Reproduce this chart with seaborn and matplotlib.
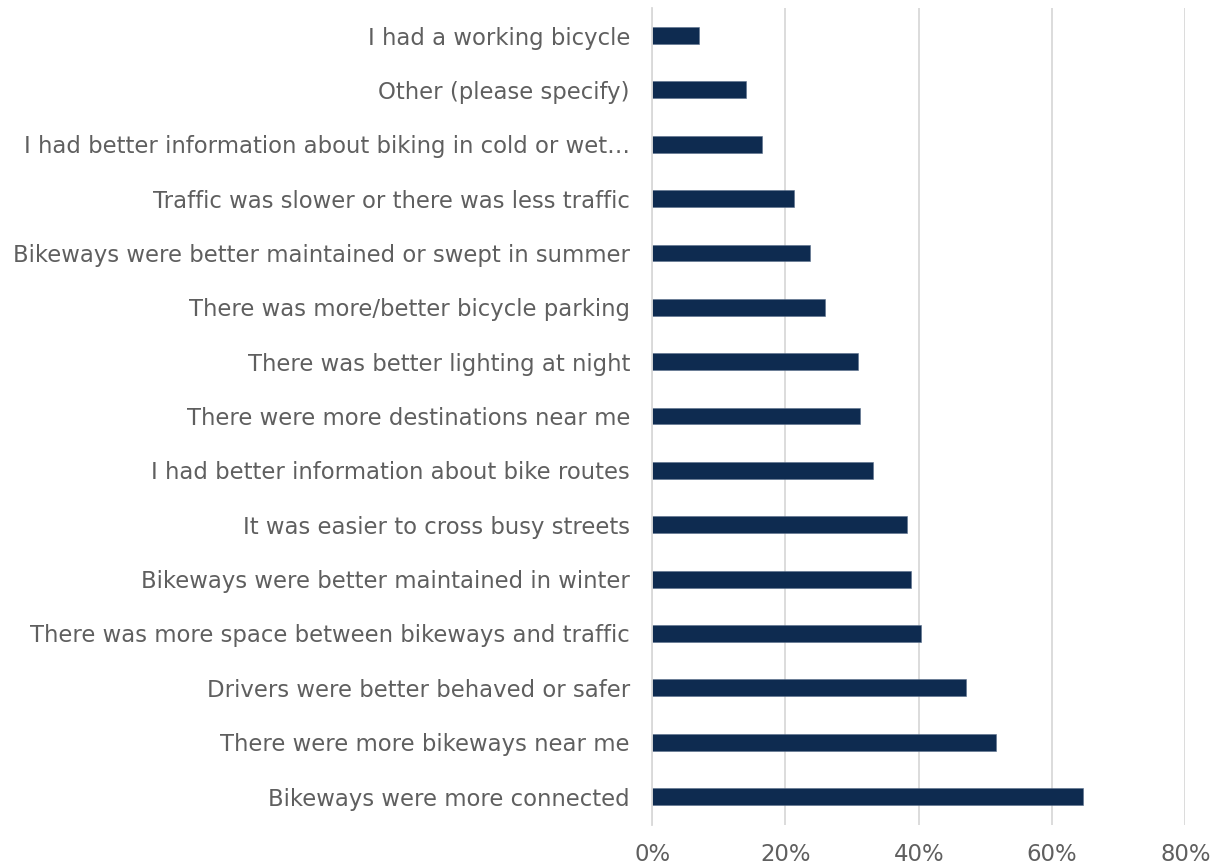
import matplotlib
matplotlib.use("Agg")
import matplotlib.pyplot as plt
from matplotlib.ticker import FuncFormatter
import seaborn as sns
import pandas as pd

# Survey responses: "I would bike more if..."
categories = [
    "I had a working bicycle",
    "Other (please specify)",
    "I had better information about biking in cold or wet\u2026",
    "Traffic was slower or there was less traffic",
    "Bikeways were better maintained or swept in summer",
    "There was more/better bicycle parking",
    "There was better lighting at night",
    "There were more destinations near me",
    "I had better information about bike routes",
    "It was easier to cross busy streets",
    "Bikeways were better maintained in winter",
    "There was more space between bikeways and traffic",
    "Drivers were better behaved or safer",
    "There were more bikeways near me",
    "Bikeways were more connected",
]
shares = [
    0.070, 0.141, 0.165, 0.213, 0.237, 0.259, 0.309, 0.312, 0.331,
    0.382, 0.389, 0.403, 0.471, 0.516, 0.646,
]
x_ticks = [0.0, 0.2, 0.4, 0.6, 0.8]

df = pd.DataFrame({"category": categories, "share": shares})

sns.set_theme(style="white")
plt.rcParams["font.family"] = ["DejaVu Sans"]

fig = plt.figure(figsize=(12.19, 8.67), dpi=100)
ax = fig.add_axes([0.535, 0.048, 0.4375, 0.943])

sns.barplot(data=df, x="share", y="category", order=categories,
            color="#0e2b50", width=0.31, saturation=1, ax=ax,
            edgecolor="#5a6f8c", linewidth=0.4)

ax.set_xlim(0, 0.8)
ax.set_ylim(len(categories) - 0.47, -0.51)
ax.set_xticks(x_ticks)
ax.xaxis.set_major_formatter(FuncFormatter(lambda v, _: f"{v*100:.0f}%"))
ax.grid(axis="x", color="#d9d9d9", linewidth=1.3)
ax.set_axisbelow(True)
for side in ["top", "right", "bottom"]:
    ax.spines[side].set_visible(False)
ax.spines["left"].set_color("#d9d9d9")
ax.spines["left"].set_linewidth(1.3)

ax.set_xlabel("")
ax.set_ylabel("")
ax.tick_params(axis="y", length=0, pad=16, labelsize=16.4, labelcolor="#5f5f5f")
ax.tick_params(axis="x", length=0, pad=13, labelsize=16.4, labelcolor="#5f5f5f")

fig.savefig("out.png", dpi=100, facecolor="white")
